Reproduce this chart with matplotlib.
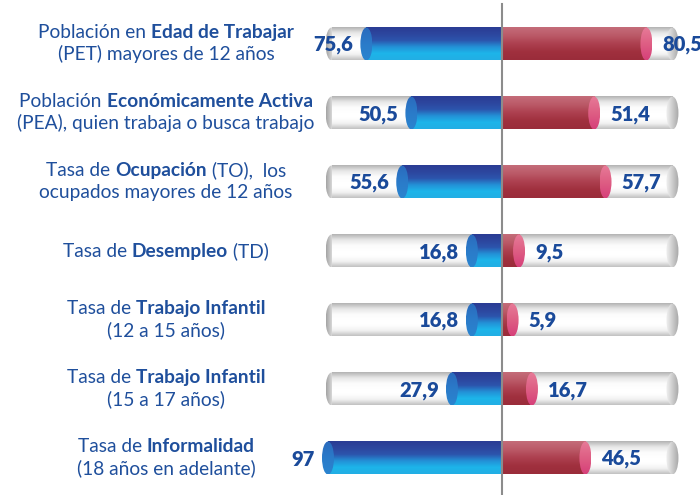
import matplotlib
matplotlib.use('Agg')
import matplotlib.pyplot as plt
import matplotlib.transforms as mtransforms
import numpy as np
from matplotlib.patches import Ellipse
from matplotlib.colors import LinearSegmentedColormap

# Datos del gráfico (izquierda: barras azules, derecha: barras rojas)
valores_izq = [75.6, 50.5, 55.6, 16.8, 16.8, 27.9, 97]
valores_der = [80.5, 51.4, 57.7, 9.5, 5.9, 16.7, 46.5]

# Etiquetas: cada fila es una lista de líneas, cada línea una lista de (texto, negrita)
categorias = [
    [[('Población en ', False), ('Edad de Trabajar', True)],
     [('(PET) mayores de 12 años', False)]],
    [[('Población ', False), ('Económicamente Activa', True)],
     [('(PEA), quien trabaja o busca trabajo', False)]],
    [[('Tasa de ', False), ('Ocupación', True), (' (TO),  los', False)],
     [('ocupados mayores de 12 años', False)]],
    [[('Tasa de ', False), ('Desempleo', True), (' (TD)', False)]],
    [[('Tasa de ', False), ('Trabajo Infantil', True)],
     [('(12 a 15 años)', False)]],
    [[('Tasa de ', False), ('Trabajo Infantil', True)],
     [('(15 a 17 años)', False)]],
    [[('Tasa de ', False), ('Informalidad', True)],
     [('(18 años en adelante)', False)]],
]

FUENTE = 'Lato'
AZUL_TEXTO = '#1f4f9c'
AZUL_VALOR = '#1a4a9a'
DPI = 100

fig = plt.figure(figsize=(7, 4.95), dpi=DPI)
fig.patch.set_facecolor('white')

# Escala: ~1.794 px por unidad, centro en x=502 px
escala = 1.794
ax = fig.add_axes([300 / 700, 0, 400 / 700, 1])
xmin, xmax = -202 / escala, 198 / escala
paso = 69.0
ymin, ymax = -44 / paso, (495 - 44) / paso
ax.set_axis_off()

alto = 33 / paso          # alto de los cilindros en unidades de fila
ancho_tapa = 12 / escala  # ancho de la elipse de los extremos
fondo = 95                # extensión del cilindro gris


def degradado(x0, x1, yc, h, colores, clip=None, horizontal=False, z=2):
    cmap = LinearSegmentedColormap.from_list('g', colores)
    g = np.linspace(0, 1, 80)
    arr = g[None, :] if horizontal else g[:, None]
    im = ax.imshow(arr, cmap=cmap, extent=[x0, x1, yc + h / 2, yc - h / 2],
                   aspect='auto', interpolation='bilinear', zorder=z)
    if clip is not None:
        im.set_clip_path(clip)
    return im


def tapa(xc, yc, colores, z, horizontal=False):
    e = Ellipse((xc, yc), ancho_tapa, alto, transform=ax.transData)
    degradado(xc - ancho_tapa / 2, xc + ancho_tapa / 2, yc, alto, colores,
              clip=e, horizontal=horizontal, z=z)


for i, (vi, vd) in enumerate(zip(valores_izq, valores_der)):
    # cilindro gris de fondo
    tapa(-fondo, i, ['#a4a4a4', '#dcdcdc', '#ffffff'], 1, horizontal=True)
    degradado(-fondo, fondo, i, alto,
              ['#b4b4b4', '#e6e6e6', '#fbfbfb', '#ffffff', '#ffffff', '#f2f2f2', '#c2c2c2'], z=1.5)
    tapa(fondo, i, ['#f2f2f2', '#cdcdcd', '#a6a6a6'], 1.6, horizontal=True)

    # barra azul (izquierda)
    degradado(-vi, 0, i, alto,
              ['#2a3c94', '#2d469e', '#2c54ac', '#2390d6', '#1db5ea', '#22aee4'], z=3)
    tapa(-vi, i, ['#2a6abd', '#2b7bc9', '#2a84cf'], 3.5)

    # barra roja (derecha)
    degradado(0, vd, i, alto,
              ['#c46c79', '#bb5a68', '#ad4050', '#a0303e', '#9a2c3a'], z=3)
    tapa(vd, i, ['#e77b98', '#de5f84', '#d6407a'], 3.5)

    # valores
    ax.annotate(f'{vi:g}'.replace('.', ','), xy=(-vi, i),
                xytext=(-ancho_tapa * escala / 2 - 7, -1), textcoords='offset pixels',
                ha='right', va='center', fontsize=14.5, fontweight='heavy',
                color=AZUL_VALOR, family=FUENTE, zorder=5)
    ax.annotate(f'{vd:g}'.replace('.', ','), xy=(vd, i),
                xytext=(ancho_tapa * escala / 2 + 10, -1), textcoords='offset pixels',
                ha='left', va='center', fontsize=14.5, fontweight='heavy',
                color=AZUL_VALOR, family=FUENTE, zorder=5, annotation_clip=False)

# línea central
ax.axvline(0, ymin=0, ymax=1 - 4 / 495, color='#8c8c8c', lw=1.5, zorder=10)

ax.set_xlim(xmin, xmax)
ax.set_ylim(ymax, ymin)

# etiquetas con partes en negrita
renderer = fig.canvas.get_renderer()
tam_etiqueta = 13.8


def ancho(s, bold):
    peso = 'bold' if bold else 'normal'
    t1 = fig.text(0, 0, s + '|', fontsize=tam_etiqueta, fontweight=peso, family=FUENTE)
    t2 = fig.text(0, 0, '|', fontsize=tam_etiqueta, fontweight=peso, family=FUENTE)
    w = t1.get_window_extent(renderer).width - t2.get_window_extent(renderer).width
    t1.remove()
    t2.remove()
    return w


base = mtransforms.blended_transform_factory(fig.transFigure, ax.transData)
x_centro = 166 / 700
for i, lineas in enumerate(categorias):
    if len(lineas) == 1:
        desplaz = [6]
    else:
        desplaz = [-6, 16]
    for linea, dy in zip(lineas, desplaz):
        anchos = [ancho(s, b) for s, b in linea]
        x = -sum(anchos) / 2
        for (s, b), w in zip(linea, anchos):
            tr = base + mtransforms.ScaledTranslation(x / DPI, -dy / DPI, fig.dpi_scale_trans)
            ax.text(x_centro, i, s, transform=tr, ha='left', va='baseline',
                    fontsize=tam_etiqueta, fontweight='bold' if b else 'normal',
                    family=FUENTE, color=AZUL_TEXTO, clip_on=False)
            x += w

fig.savefig('out.png', dpi=DPI, facecolor='white')
